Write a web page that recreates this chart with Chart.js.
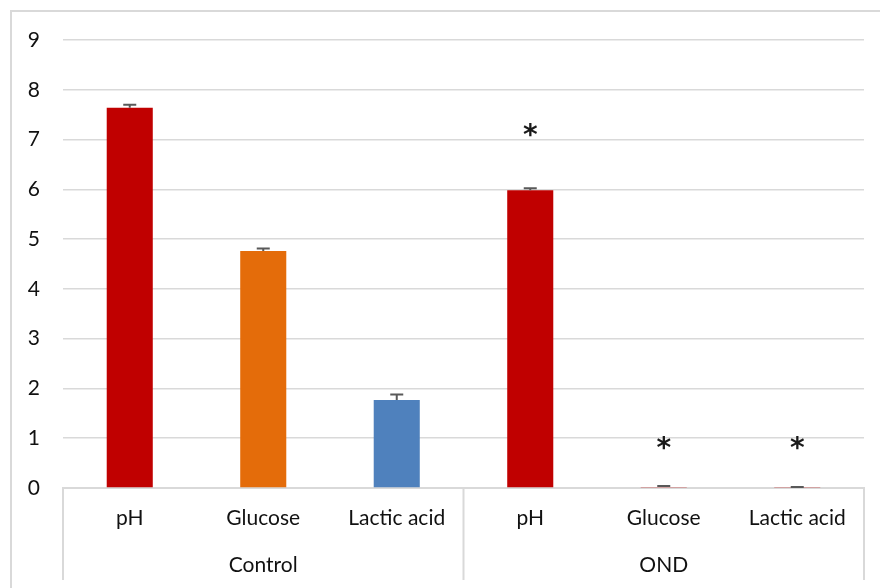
<!DOCTYPE html>
<html>
<head>
<meta charset="utf-8">
<script src="https://cdn.jsdelivr.net/npm/chart.js@4"></script>
<style>
  html, body { margin: 0; padding: 0; background: #fff; }
  #wrap { width: 880px; height: 588px; }
</style>
</head>
<body>
<div id="wrap"><canvas id="myChart" width="880" height="588"></canvas></div>
<script>
// data
const labels = ['pH', 'Glucose', 'Lactic acid', 'pH', 'Glucose', 'Lactic acid']
const groups = ['Control', 'OND']
const means = [7.64, 4.76, 1.77, 5.98, 0.02, 0.01]
const errors = [0.06, 0.05, 0.11, 0.04, 0.02, 0.01]
const stars = ['', '', '', '*', '*', '*']
const starLevels = [null, null, null, 7.15, 0.86, 0.86]
const barColors = ['#C00000', '#E46C0A', '#4F81BD', '#C00000', '#C00000', '#C00000']
const yTicks = [0, 1, 2, 3, 4, 5, 6, 7, 8, 9]

const FONT = 'Lato, "Open Sans", sans-serif'
const GRID = '#d9d9d9'

// frame, error bars, significance marks and group separators
const extras = {
	id: 'extras',
	beforeDraw(chart) {
		const ctx = chart.ctx
		ctx.save()
		ctx.strokeStyle = GRID
		ctx.lineWidth = 2
		ctx.strokeRect(11, 11, 900, 620)
		ctx.restore()
	},
	afterDatasetsDraw(chart) {
		const ctx = chart.ctx
		const x = chart.scales.x
		const y = chart.scales.y
		ctx.save()
		ctx.strokeStyle = '#595959'
		ctx.lineWidth = 2
		means.forEach((m, i) => {
			const px = x.getPixelForValue(i)
			const y0 = y.getPixelForValue(m)
			const y1 = y.getPixelForValue(m + errors[i])
			ctx.beginPath()
			ctx.moveTo(px, y0)
			ctx.lineTo(px, y1)
			ctx.moveTo(px - 6.5, y1)
			ctx.lineTo(px + 6.5, y1)
			ctx.stroke()
		})
		ctx.fillStyle = '#1a1a1a'
		ctx.font = 'bold 28px "DejaVu Sans", sans-serif'
		ctx.textAlign = 'center'
		ctx.textBaseline = 'middle'
		stars.forEach((s, i) => {
			if (!s) return
			ctx.fillText(s, x.getPixelForValue(i), y.getPixelForValue(starLevels[i]) + 5)
		})
		ctx.restore()
	},
	afterDraw(chart) {
		const ctx = chart.ctx
		const area = chart.chartArea
		const per = labels.length / groups.length
		const step = (area.right - area.left) / labels.length
		ctx.save()
		ctx.strokeStyle = GRID
		ctx.lineWidth = 2
		for (let g = 0; g <= groups.length; g++) {
			const px = area.left + g * per * step
			ctx.beginPath()
			ctx.moveTo(px, area.bottom)
			ctx.lineTo(px, area.bottom + 92)
			ctx.stroke()
		}
		ctx.restore()
	}
}

new Chart(document.getElementById('myChart').getContext('2d'), {
	type: 'bar',
	data: {
		labels: labels,
		datasets: [{
			data: means,
			backgroundColor: barColors,
			borderWidth: 0,
			categoryPercentage: 1,
			barPercentage: 0.345
		}]
	},
	options: {
		responsive: false,
		animation: false,
		layout: { padding: { top: 40, right: 16, left: 0, bottom: 0 } },
		plugins: { legend: { display: false }, tooltip: { enabled: false } },
		scales: {
			y: {
				min: 0,
				max: 9,
				afterBuildTicks: (s) => { s.ticks = yTicks.map(v => ({ value: v })) },
				afterFit: (s) => { s.width = 63 },
				ticks: { padding: 23, color: '#111', font: { family: FONT, size: 21 } },
				grid: { color: GRID, lineWidth: 1.5, drawTicks: false },
				border: { display: false }
			},
			x: {
				afterFit: (s) => { s.height = 50 },
				ticks: { padding: 18, color: '#111', maxRotation: 0, autoSkip: false, font: { family: FONT, size: 21 } },
				grid: { display: false, drawTicks: false },
				border: { display: true, color: GRID, width: 2 }
			},
			x2: {
				type: 'category',
				position: 'bottom',
				labels: groups,
				offset: true,
				afterFit: (s) => { s.height = 50 },
				ticks: { padding: 15, color: '#111', maxRotation: 0, font: { family: FONT, size: 21 } },
				grid: { display: false, drawTicks: false },
				border: { display: false }
			}
		}
	},
	plugins: [extras]
})
</script>
</body>
</html>
